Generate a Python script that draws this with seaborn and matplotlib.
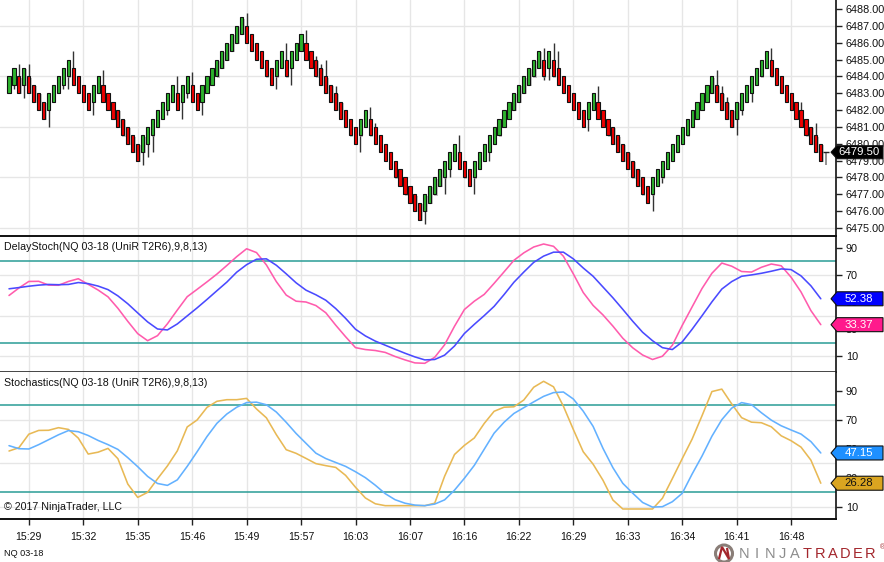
import numpy as np
import pandas as pd
import matplotlib
matplotlib.use("Agg")
import matplotlib.pyplot as plt
import seaborn as sns
from matplotlib.patches import Polygon, Ellipse

# ---------------- data ----------------
closes = [
    6484, 6484.5, 6483, 6484.5, 6483, 6482.5, 6482, 6481.5, 6483, 6483.5,
    6484, 6484.5, 6485, 6483.5, 6483, 6482.5, 6482, 6483.5, 6484, 6482.5,
    6482, 6481.5, 6481, 6480.5, 6480, 6479.5, 6479, 6480.5, 6481, 6481.5,
    6482, 6482.5, 6483, 6483.5, 6482, 6483.5, 6484, 6482.5, 6482, 6483.5,
    6484, 6484.5, 6485, 6485.5, 6486, 6486.5, 6487, 6487.5, 6486, 6485.5,
    6485, 6484.5, 6484, 6483.5, 6485, 6485.5, 6484, 6485.5, 6486, 6486.5,
    6485, 6484.5, 6484, 6483.5, 6483, 6482.5, 6482, 6481.5, 6481, 6480.5,
    6480, 6481.5, 6482, 6480.5, 6480, 6479.5, 6479, 6478.5, 6478, 6477.5,
    6477, 6476.5, 6476, 6475.5, 6477, 6477.5, 6478, 6478.5, 6479, 6479.5,
    6480, 6478.5, 6478, 6477.5, 6479, 6479.5, 6480, 6480.5, 6481, 6481.5,
    6482, 6482.5, 6483, 6483.5, 6484, 6484.5, 6485, 6485.5, 6484, 6485.5,
    6484, 6483.5, 6483, 6482.5, 6482, 6481.5, 6481, 6482.5, 6483, 6481.5,
    6481, 6480.5, 6480, 6479.5, 6479, 6478.5, 6478, 6477.5, 6477, 6476.5,
    6478, 6478.5, 6479, 6479.5, 6480, 6480.5, 6481, 6481.5, 6482, 6482.5,
    6483, 6483.5, 6484, 6482.5, 6482, 6481.5, 6481, 6482.5, 6483, 6483.5,
    6484, 6484.5, 6485, 6485.5, 6484, 6483.5, 6483, 6482.5, 6482, 6481.5,
    6481, 6480.5, 6480, 6479.5, 6479,
]
brick_size = 1.0
last_price = 6479.50
last_low = 6478.75

upper_wick_bars = [2, 4, 13, 19, 34, 37, 48, 56, 60, 62, 63, 64, 66, 73, 74, 91,
                   108, 110, 111, 119, 143, 144, 145, 154, 160, 163]
upper_wick_vals = [6484.75, 6484.75, 6485.5, 6484.4, 6484.0, 6484.25, 6487.75, 6486.0,
                   6486.75, 6485.2, 6484.75, 6485.0, 6483.45, 6482.2, 6481.25, 6480.5,
                   6485.7, 6486.0, 6485.5, 6483.45, 6484.4, 6483.45, 6482.75, 6485.7,
                   6482.5, 6481.25]
lower_wick_bars = [1, 3, 8, 11, 12, 17, 27, 28, 29, 32, 35, 36, 39, 54, 57, 71, 84,
                   88, 89, 94, 97, 108, 109, 117, 130, 132, 147, 148, 150]
lower_wick_vals = [6483.25, 6482.7, 6481.0, 6483.25, 6483.25, 6481.7, 6478.75, 6479.2,
                   6479.5, 6481.7, 6481.5, 6482.7, 6481.7, 6483.25, 6483.5, 6479.5,
                   6475.25, 6477.0, 6478.0, 6477.0, 6479.0, 6483.8, 6483.8, 6480.75,
                   6476.0, 6477.7, 6480.5, 6481.7, 6482.5]

osc_bars = list(range(0, 165, 2))
delay_slow = [59.7, 60.6, 61.6, 62.4, 62.9, 62.7, 62.9, 64.3, 63.5, 61.7,
              59.1, 54.5, 48.7, 42.0, 35.4, 30.2, 29.5, 33.9, 39.8, 45.7,
              51.9, 58.3, 64.6, 71.9, 77.4, 81.4, 81.7, 77.0, 70.7, 64.1,
              58.7, 55.3, 51.3, 45.2, 38.0, 30.0, 25.1, 21.3, 18.3, 15.3,
              12.4, 9.7, 7.5, 7.8, 11.0, 17.7, 26.9, 33.6, 40.0, 46.8,
              55.4, 64.5, 72.0, 79.1, 83.7, 86.6, 86.6, 81.7, 75.0, 68.9,
              61.0, 53.1, 44.6, 35.9, 27.8, 21.6, 16.5, 15.1, 20.7, 30.0,
              39.9, 50.1, 59.5, 65.0, 68.9, 69.9, 71.1, 72.6, 74.3, 73.8,
              69.2, 61.9, 52.38]
delay_fast = [54.8, 60.3, 65.1, 65.2, 62.4, 62.3, 65.1, 67.1, 63.0, 58.8,
              53.8, 45.4, 35.8, 26.8, 21.6, 25.3, 34.0, 44.1, 53.9, 59.3,
              64.8, 70.5, 76.8, 83.3, 89.1, 86.3, 77.2, 65.0, 55.1, 50.6,
              50.0, 47.4, 42.1, 33.0, 24.5, 16.5, 15.1, 14.4, 13.0, 10.0,
              7.5, 5.3, 5.0, 9.4, 18.6, 32.2, 44.5, 50.6, 55.6, 63.7,
              72.1, 80.6, 86.1, 90.4, 92.6, 90.9, 83.6, 70.7, 57.0, 47.5,
              40.5, 32.3, 23.4, 16.4, 11.1, 7.8, 10.2, 18.2, 32.8, 46.4,
              59.9, 71.1, 78.6, 76.3, 72.4, 72.0, 75.5, 77.9, 76.6, 68.2,
              57.4, 43.7, 33.37]
stoch_slow = [52.2, 50.1, 49.9, 52.9, 56.3, 59.7, 62.6, 61.8, 59.2, 55.8,
              52.9, 49.6, 43.9, 37.7, 31.0, 26.1, 24.8, 28.6, 37.9, 48.0,
              58.5, 67.6, 74.0, 78.7, 81.9, 82.2, 80.4, 75.4, 68.3, 60.6,
              53.8, 47.0, 43.3, 40.6, 37.9, 34.2, 30.1, 24.9, 19.1, 14.9,
              12.5, 11.2, 10.8, 11.9, 14.8, 21.5, 29.7, 38.6, 49.7, 60.8,
              68.3, 74.4, 78.4, 82.4, 86.2, 88.8, 89.2, 84.4, 76.0, 65.5,
              50.3, 37.0, 26.2, 19.4, 13.0, 9.8, 10.1, 13.5, 19.3, 32.6,
              45.0, 58.7, 70.1, 78.1, 81.9, 80.5, 74.9, 69.8, 65.9, 63.0,
              60.2, 55.0, 47.15]
stoch_fast = [48.5, 50.8, 60.1, 62.7, 62.8, 64.6, 63.4, 57.4, 46.4, 47.7,
              50.3, 43.2, 25.7, 16.5, 20.0, 29.3, 38.2, 48.6, 65.1, 69.9,
              78.6, 82.8, 83.9, 83.9, 84.8, 77.5, 71.4, 59.8, 49.4, 46.9,
              43.4, 39.8, 38.4, 37.2, 31.7, 23.5, 16.1, 12.1, 10.8, 10.8,
              10.8, 10.8, 10.8, 12.5, 31.1, 46.1, 52.4, 57.5, 67.5, 75.9,
              78.7, 79.0, 83.7, 92.5, 96.6, 92.8, 79.4, 63.4, 48.0, 39.4,
              28.3, 14.7, 8.5, 8.5, 8.5, 8.5, 15.9, 29.4, 43.2, 56.7,
              72.8, 89.5, 91.2, 81.0, 71.5, 68.4, 68.0, 65.2, 59.0, 55.6,
              51.2, 42.2, 26.28]

time_tick_bars = [4, 15, 26, 37, 48, 59, 70, 81, 92, 103, 114, 125, 136, 147, 158]
time_labels = ["15:29", "15:32", "15:35", "15:46", "15:49", "15:57", "16:03", "16:07",
               "16:16", "16:22", "16:29", "16:33", "16:34", "16:41", "16:48"]
levels = [80, 20]

# ---------------- style ----------------
sns.set_theme(style="white")
plt.rcParams['font.family'] = ['Liberation Sans', 'DejaVu Sans']
plt.rcParams['axes.facecolor'] = 'white'
plt.rcParams['figure.facecolor'] = 'white'

W, H = 884, 562
fig = plt.figure(figsize=(W / 100, H / 100), dpi=100)

def fx(px):
    return px / W

def fy(py):
    return 1 - py / H

AX_R = 836
ax1 = fig.add_axes([0, fy(236), fx(AX_R), 236 / H])
ax2 = fig.add_axes([0, fy(372.3), fx(AX_R), (372.3 - 236.5) / H], sharex=ax1)
ax3 = fig.add_axes([0, fy(519), fx(AX_R), (519 - 372.3) / H], sharex=ax1)

GRID = '#e6e6e6'
TEAL = '#2a9d96'
for ax in (ax1, ax2, ax3):
    for s in ('left', 'top'):
        ax.spines[s].set_visible(False)
    ax.spines['right'].set_color('#111111')
    ax.spines['right'].set_linewidth(1.2)
    ax.spines['bottom'].set_linewidth(1.4)
    ax.yaxis.tick_right()
    ax.tick_params(axis='y', which='major', direction='out', length=4, width=1,
                   color='#222222', pad=3, labelsize=7.8, labelcolor='#111111',
                   left=False, right=True)
    for t in time_tick_bars:
        ax.axvline(t, color=GRID, lw=1, zorder=0)
ax1.spines['bottom'].set_color('#111111')
ax2.spines['bottom'].set_color('#444444')
ax3.spines['bottom'].set_color('#111111')

ax1.set_xlim(-1.82, 167.07)

# ---------------- price panel ----------------
n = len(closes)
idx = np.arange(n)
c = np.array(closes, dtype=float)
prev = np.concatenate([[c[0] - 0.5], c[:-1]])
up = c > prev
opens = np.where(up, c - brick_size, c + brick_size)
body_lo = np.minimum(opens, c)
body_hi = np.maximum(opens, c)
highs = body_hi.copy()
lows = body_lo.copy()
highs[upper_wick_bars] = upper_wick_vals
lows[lower_wick_bars] = lower_wick_vals

for g in (6475, 6478, 6481, 6484, 6487):
    ax1.axhline(g, color=GRID, lw=1, zorder=0)

ax1.vlines(idx, lows, highs, color='#333333', lw=1.0, zorder=2)
ax1.bar(idx + 0.25, body_hi - body_lo, bottom=body_lo - 0.07, width=0.66,
        color='#9a9a9a', alpha=0.55, linewidth=0, zorder=2.5)
ax1.bar(idx, body_hi - body_lo, bottom=body_lo, width=0.64,
        color=np.where(up, '#2db32d', '#ee0000'), edgecolor='#111111',
        linewidth=0.8, zorder=3)
# forming bar
ax1.vlines([n], [last_low], [last_price], color='#8a8a8a', lw=1.3, zorder=2)
ax1.hlines([last_price], [n - 0.6], [n + 0.6], color='#222222', lw=1.0, zorder=3)

ax1.set_ylim(6474.528, 6488.534)
ax1.set_yticks(np.arange(6475, 6489, 1.0))
ax1.set_yticklabels([f"{v:.2f}" for v in np.arange(6475, 6489, 1.0)])
ax1.tick_params(axis='x', length=0, labelbottom=False)

# ---------------- oscillator panels ----------------
def panel(ax, slow, fast, slow_col, fast_col, ylim):
    for g in (10, 40, 70):
        ax.axhline(g, color=GRID, lw=1, zorder=0)
    for lv in levels:
        ax.axhline(lv, color=TEAL, lw=1.1, zorder=1)
    df = pd.DataFrame({'bar': osc_bars, 'slow': slow, 'fast': fast})
    sns.lineplot(data=df, x='bar', y='fast', ax=ax, color=fast_col, lw=1.15, zorder=3)
    sns.lineplot(data=df, x='bar', y='slow', ax=ax, color=slow_col, lw=1.15, zorder=4)
    ax.set_ylim(*ylim)
    ax.set_yticks([10, 30, 50, 70, 90])
    ax.set_ylabel('')
    ax.set_xlabel('')

panel(ax2, delay_slow, delay_fast, '#4a4aff', '#ff5cad', (-1.6, 98.1))
panel(ax3, stoch_slow, stoch_fast, '#63b1ff', '#e8b955', (1.6, 102.8))
ax2.tick_params(axis='x', length=0, labelbottom=False)

ax3.set_xticks(time_tick_bars)
ax3.set_xticklabels(time_labels)
ax3.tick_params(axis='x', direction='out', length=4, width=1, color='#222222',
                pad=5, labelsize=7.6, labelcolor='#111111', bottom=True)
ax1.set_xlim(-1.82, 167.07)

# ---------------- text ----------------
fig.text(fx(4), fy(247.3), "DelayStoch(NQ 03-18 (UniR T2R6),9,8,13)", fontsize=7.7,
         color='#111111', va='center', ha='left')
fig.text(fx(4), fy(383.5), "Stochastics(NQ 03-18 (UniR T2R6),9,8,13)", fontsize=7.7,
         color='#111111', va='center', ha='left')
fig.text(fx(4), fy(506.7), "\u00a9 2017 NinjaTrader, LLC", fontsize=7.7,
         color='#111111', va='center', ha='left')
fig.text(fx(4), fy(553.5), "NQ 03-18", fontsize=6.6, color='#111111',
         va='center', ha='left')

# logo
for k, ch in enumerate("NINJATRADER"):
    fig.text(fx(744.5 + 12.6 * k), fy(553.5), ch, fontsize=10.5, ha='center',
             va='center', color='#8c8c8c' if k < 5 else '#a3262c')
fig.text(fx(882), fy(548), "\u00ae", fontsize=5, ha='center', va='center', color='#a3262c')
fig.add_artist(Ellipse((fx(724), fy(553.5)), 17 / W, 17 / H, transform=fig.transFigure,
                       facecolor='none', edgecolor='#8a7e78', lw=2.2))
fig.add_artist(Polygon([(fx(719), fy(559)), (fx(722), fy(547)), (fx(729), fy(559)),
                        (fx(727), fy(548))], closed=False, transform=fig.transFigure,
                       fill=False, edgecolor='#a3262c', lw=1.6))

# ---------------- value tags ----------------
fig.canvas.draw()

def tag(ax, value, face, txtcol, text, half=7.0):
    ypx = ax.transData.transform((0, value))[1]
    yc = ypx / H
    hh = half / H
    pts = [(fx(831), yc), (fx(837), yc + hh), (fx(883), yc + hh), (fx(883), yc - hh),
           (fx(837), yc - hh)]
    fig.add_artist(Polygon(pts, closed=True, transform=fig.transFigure, facecolor=face,
                           edgecolor='#111111', lw=0.8, zorder=10))
    fig.text(fx(859), yc, text, fontsize=8.2, color=txtcol, ha='center', va='center',
             zorder=11)

tag(ax2, delay_slow[-1], '#0000ff', 'white', f"{delay_slow[-1]:.2f}")
tag(ax2, delay_fast[-1], '#ff1a8c', 'white', f"{delay_fast[-1]:.2f}")
tag(ax3, stoch_slow[-1], '#1e90ff', 'white', f"{stoch_slow[-1]:.2f}")
tag(ax3, stoch_fast[-1], '#daa520', '#111111', f"{stoch_fast[-1]:.2f}")
tag(ax1, last_price, '#000000', 'white', f"{last_price:.2f}", half=6.5)

fig.savefig("out.png", dpi=100, facecolor='white')
